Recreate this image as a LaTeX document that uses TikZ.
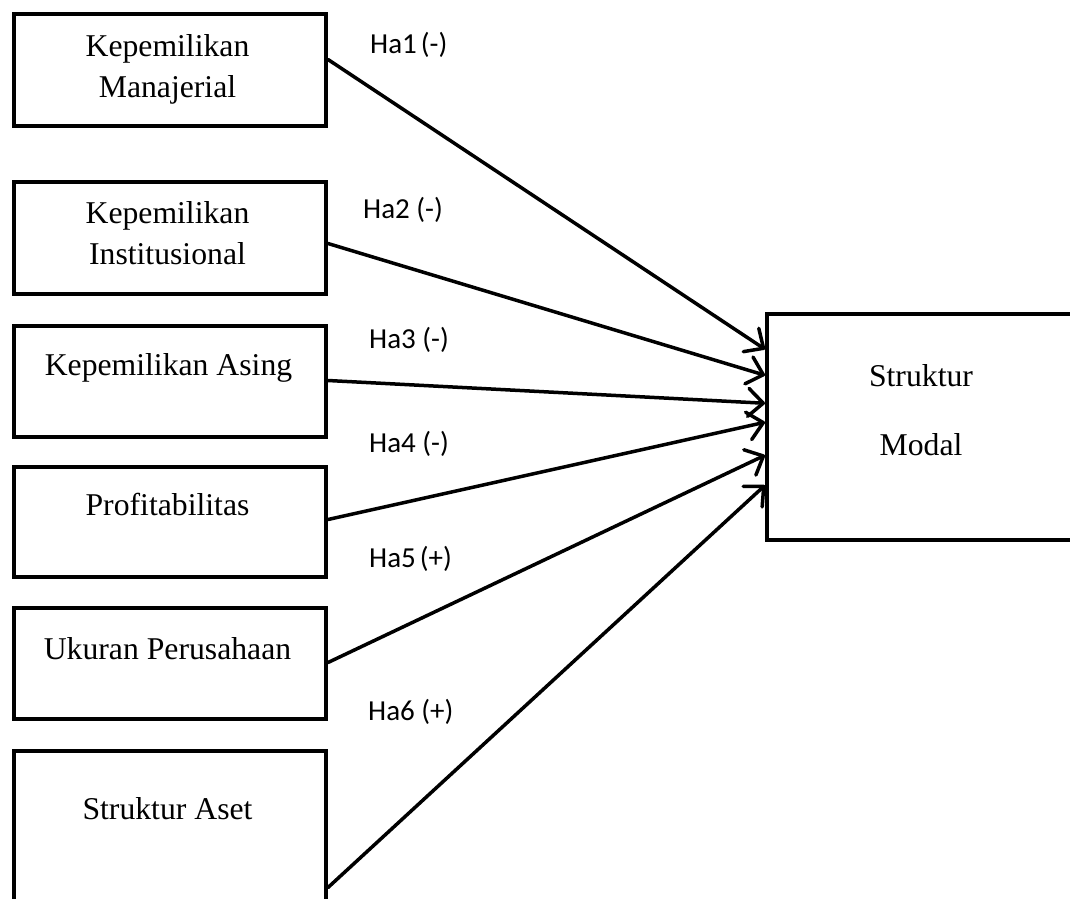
\documentclass[tikz,border=0pt]{standalone}
\usepackage{fontspec}
\setmainfont{Liberation Serif}
\newfontfamily\labfont{Carlito}
\usetikzlibrary{arrows.meta}
\begin{document}
\begin{tikzpicture}[x=1pt,y=-1pt,
  varbox/.style={draw, line width=4pt, inner sep=0pt, anchor=north west, minimum width=312pt},
  boxtext/.style={anchor=base, inner sep=0pt, font=\fontsize{31.7}{41}\selectfont},
  hyplabel/.style={anchor=base west, inner sep=0pt, font=\labfont\fontsize{29}{32}\selectfont},
  arr/.style={line width=3.5pt, line cap=round, -{Straight Barb[length=15pt,width=28pt,round]}}]
\useasboundingbox (0,0) rectangle (1070,898);
\clip (0,0) rectangle (1070,898);
% boxes
\node[varbox, minimum height=112pt] (b1) at (12,12) {};
\node[varbox, minimum height=112pt] (b2) at (12,180) {};
\node[varbox, minimum height=111pt] (b3) at (12,324) {};
\node[varbox, minimum height=110pt] (b4) at (12,465) {};
\node[varbox, minimum height=111pt] (b5) at (12,606) {};
\node[varbox, minimum height=173.5pt] (b6) at (12,749) {};
\node[varbox, minimum width=330pt, minimum height=226pt] (sm) at (765,312) {};
% box texts
\node[boxtext] (t1a) at (167.5,56) {Kepemilikan};
\node[boxtext] (t1b) at (167.5,97) {Manajerial};
\node[boxtext] (t2a) at (167.5,223) {Kepemilikan};
\node[boxtext] (t2b) at (167.5,264) {Institusional};
\node[boxtext] (t3) at (168.5,375) {Kepemilikan Asing};
\node[boxtext] (t4) at (167.5,515) {Profitabilitas};
\node[boxtext] (t5) at (167.5,659) {Ukuran Perusahaan};
\node[boxtext] (t6) at (167.5,819) {Struktur Aset};
\node[boxtext] (tsa) at (921,386) {Struktur};
\node[boxtext] (tsb) at (921,455) {Modal};
% hypothesis labels
\node[hyplabel] (h1) at (370,53) {Ha1\kern4pt(-)};
\node[hyplabel] (h2) at (363,218) {Ha2 (-)};
\node[hyplabel] (h3) at (369,348) {Ha3 (-)};
\node[hyplabel] (h4) at (369,452) {Ha4 (-)};
\node[hyplabel] (h5) at (369,567) {Ha5\kern4pt(+)};
\node[hyplabel] (h6) at (368,720) {Ha6 (+)};
% arrows
\draw[arr] ([yshift=10.5pt]b1.east) -- ([yshift=77.75pt]sm.west);
\draw[arr] ([yshift=-5.5pt]b2.east) -- ([yshift=51.75pt]sm.west);
\draw[arr] ([yshift=1pt]b3.east) -- ([yshift=23.75pt]sm.west);
\draw[arr] ([yshift=2.5pt]b4.east) -- ([yshift=4.75pt]sm.west);
\draw[arr] ([yshift=1pt]b5.east) -- ([yshift=-28.25pt]sm.west);
\draw[arr] ([yshift=-49.75pt]b6.east) -- ([yshift=-58.25pt]sm.west);
\end{tikzpicture}
\end{document}
